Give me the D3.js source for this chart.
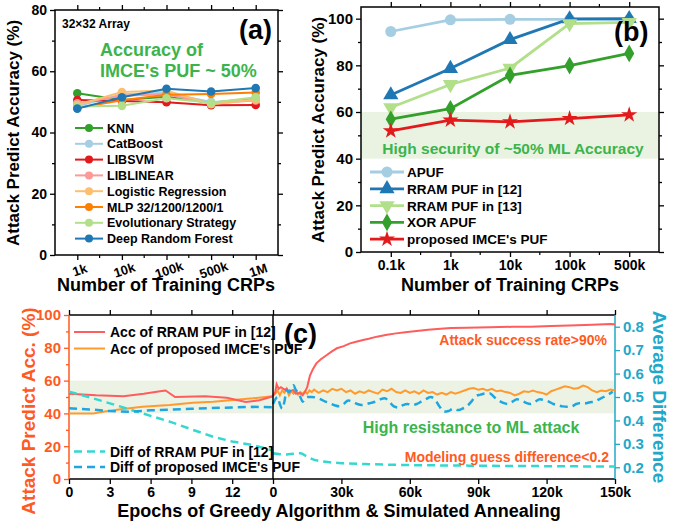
<!DOCTYPE html>
<html>
<head>
<meta charset="utf-8">
<script src="https://cdn.jsdelivr.net/npm/d3@7"></script>
<style>
body{margin:0;background:#fff;}
svg{font-family:"Liberation Sans",Arial,sans-serif;font-weight:bold;}
</style>
</head>
<body>
<svg id="chart" width="694" height="527"></svg>
<script>
// ---- panel (a) data
const crpsA = ["1k","10k","100k","500k","1M"];
const namesA = ["KNN","CatBoost","LIBSVM","LIBLINEAR","Logistic Regression","MLP 32/1200/1200/1","Evolutionary Strategy","Deep Random Forest"];
const knnAcc = [52.8,50.6,51.7,49.7,51.2];
const catboostAcc = [48.6,52.5,53.0,50.0,50.5];
const libsvmAcc = [50.6,50.3,49.9,48.9,49.0];
const liblinearAcc = [49.5,52.0,52.5,49.4,50.5];
const logregAcc = [49.0,53.2,53.7,49.2,50.8];
const mlpAcc = [48.0,50.5,52.3,52.6,53.1];
const evoAcc = [48.5,48.7,51.2,49.7,51.5];
const drfAcc = [47.8,51.5,54.3,53.4,54.5];

// ---- panel (b) data
const crpsB = ["0.1k","1k","10k","100k","500k"];
const namesB = ["APUF","RRAM PUF in [12]","RRAM PUF in [13]","XOR APUF","proposed IMCE's PUF"];
const apufAcc = [94.5,99.5,99.7,99.7,99.6];
const rram12Acc = [67.3,78.6,91.0,99.9,100];
const rram13Acc = [61.9,71.8,78.8,97.9,98.4];
const xorAcc = [56.9,61.4,75.7,79.9,85.1];
const imceAcc = [51.9,56.5,55.8,57.2,58.8];

// ---- panel (c) data: [epoch, value] for greedy, [k epochs, value] for annealing
const epochTicks = [0,3,6,9,12];
const annealTicks = [0,30,60,90,120,150];
const legendC = ["Acc of RRAM PUF in [12]","Acc of proposed IMCE's PUF","Diff of RRAM PUF in [12]","Diff of proposed IMCE's PUF"];
const rramAccGreedy = [[0,52],[2,51],[4,50.5],[5.5,52],[6.7,53.5],[7.1,54],[7.8,50],[10,50.5],[11.6,49.5],[13,47],[14,48],[15,50.5]];
const imceAccGreedy = [[0,40],[1.8,40],[2.5,41],[3.8,42.5],[5.4,44],[7.4,45.1],[9.1,46.5],[10.6,47.1],[12.1,48.2],[13.5,49.2],[14.6,50.2],[15,50.5]];
const rramDiffGreedy = [[0,0.523],[1.8,0.494],[3.8,0.459],[5.4,0.43],[7.4,0.395],[9.1,0.36],[10.6,0.33],[12,0.31],[13.5,0.295],[15,0.272]];
const imceDiffGreedy = [[0,0.452],[1.5,0.447],[3,0.44],[4.5,0.437],[6,0.443],[7.5,0.446],[9,0.45],[10.5,0.453],[12,0.455],[13.5,0.458],[15,0.456]];
const rramAccAnneal = [[0,51],[1,53],[1.6,57.7],[2.5,55],[3.5,56],[5,54.5],[6,55],[7,53],[8.8,54.3],[10,52],[11.8,52.5],[13,51],[14,53],[15,56],[16.2,63],[17.5,67],[19,70.5],[21,73],[23.6,75.6],[26,78],[28,79.7],[31,81],[33.8,82.7],[36,83.5],[39.5,84.7],[42,85.5],[45.6,86.8],[50,88],[54,88.8],[58,89.5],[63,90.2],[68,91],[72,91.5],[78,92],[85,92.3],[95,92.5],[105,92.8],[113,92.9],[122,93.3],[130,93.6],[140,94],[148,94.5],[150,94.4]];
const imceAccAnneal = [[0,50.5],[1,52],[2,54],[3,51],[4,54],[5,52.5],[6,55],[7,51],[8,53.5],[9,52],[10,54],[11,51.5],[12,53],[13,52],[14,53.5],[15,52],[16,54],[17,53],[18,54.5],[20,52.5],[22,54],[24,53],[26,55],[28,54],[30,55],[32,53],[34,54],[36,52],[38,53.5],[40,52.5],[42,54],[44,53],[46,52],[48,54.5],[50,53.5],[52,55],[54,53],[56,52.5],[58,54],[60,52.5],[62,53.5],[64,52],[66,54],[68,52.5],[70,53],[72,51.5],[74,52.5],[76,51.5],[78,53],[80,52],[82,53],[84,54],[86,55],[88,55.5],[90,54.5],[92,55],[94,54],[96,55],[98,53.5],[100,54],[102,53],[104,52.5],[106,51],[108,52],[110,53.5],[112,53],[114,54],[116,53],[118,52.5],[120,51.5],[122,53.5],[124,54.5],[126,55.5],[128,56.5],[130,56],[132,55],[134,55.5],[136,57],[138,56],[140,54],[142,53],[144,54],[146,53.5],[148,54.5],[150,54]];
const rramDiffAnneal = [[0,0.26],[3,0.256],[6,0.255],[9,0.258],[12,0.26],[15,0.245],[17.5,0.234],[21,0.226],[25,0.221],[32,0.217],[40,0.214],[57,0.21],[86,0.207],[116,0.205],[150,0.203]];
const imceDiffAnneal = [[0,0.47],[1,0.49],[2,0.5],[3,0.47],[4,0.45],[5,0.48],[6,0.53],[7,0.52],[8,0.54],[9,0.55],[10,0.53],[11,0.52],[12,0.5],[13,0.48],[14,0.49],[15,0.5],[17,0.5],[19,0.497],[21,0.49],[23,0.48],[25,0.473],[27,0.465],[29,0.46],[31,0.47],[33,0.485],[35,0.48],[37,0.47],[39,0.466],[41,0.47],[43,0.475],[45,0.48],[47,0.49],[49,0.495],[51,0.48],[53,0.46],[55,0.455],[57,0.465],[59,0.47],[61,0.465],[63,0.47],[65,0.48],[67,0.49],[69,0.5],[71,0.49],[73,0.46],[75,0.437],[77,0.44],[79,0.45],[81,0.444],[83,0.45],[85,0.46],[87,0.48],[89,0.505],[91,0.51],[93,0.515],[95,0.516],[97,0.5],[99,0.485],[101,0.475],[103,0.47],[105,0.48],[107,0.49],[109,0.485],[111,0.475],[113,0.47],[115,0.48],[117,0.49],[119,0.487],[121,0.48],[123,0.47],[125,0.465],[127,0.46],[129,0.458],[131,0.46],[133,0.47],[135,0.475],[137,0.473],[139,0.478],[141,0.48],[143,0.49],[145,0.5],[147,0.51],[149,0.523]];

const svg = d3.select("#chart");
svg.append("rect").attr("width",694).attr("height",527).attr("fill","#fff");

const green = "#3cb44b";

// styles an axis group: bold labels, given colour
function styleAxis(g, color, size) {
  g.select(".domain").remove();
  g.selectAll("line").attr("stroke", color).attr("stroke-width", 1.3);
  g.selectAll("text").attr("fill", color).attr("font-size", size)
    .attr("font-weight","bold").attr("font-family","Liberation Sans, Arial, sans-serif");
}

// ================= panel (a)
const xA = d3.scalePoint().domain(crpsA).range([55,278]).padding(0.5);
const yA = d3.scaleLinear().domain([0,80]).range([255,10]);
const gA = svg.append("g");

let ax = gA.append("g").attr("transform","translate(0,255)")
  .call(d3.axisBottom(xA).tickSize(5));
styleAxis(ax, "#000", 13);
ax.selectAll("text").attr("y",0).attr("dy","0.35em")
  .attr("transform","translate(2,15) rotate(-18)");
// minor ticks between categories
const minorA = crpsA.slice(0,-1).map((c,i) => (xA(c) + xA(crpsA[i+1]))/2);
gA.selectAll(".mxa").data(minorA).enter().append("line")
  .attr("x1",d=>d).attr("x2",d=>d).attr("y1",255).attr("y2",258).attr("stroke","#000").attr("stroke-width",1.2);
gA.selectAll(".mxat").data(minorA).enter().append("line")
  .attr("x1",d=>d).attr("x2",d=>d).attr("y1",10).attr("y2",7).attr("stroke","#000").attr("stroke-width",1.2);
ax = gA.append("g").attr("transform","translate(0,10)")
  .call(d3.axisTop(xA).tickSize(5).tickFormat(""));
styleAxis(ax, "#000", 13);

ax = gA.append("g").attr("transform","translate(55,0)")
  .call(d3.axisLeft(yA).tickValues([0,20,40,60,80]).tickSize(5));
styleAxis(ax, "#000", 14);
ax = gA.append("g").attr("transform","translate(55,0)")
  .call(d3.axisLeft(yA).tickValues([10,30,50,70]).tickSize(3).tickFormat(""));
styleAxis(ax, "#000", 14);
ax = gA.append("g").attr("transform","translate(278,0)")
  .call(d3.axisRight(yA).tickValues([0,20,40,60,80]).tickSize(5).tickFormat(""));
styleAxis(ax, "#000", 14);
ax = gA.append("g").attr("transform","translate(278,0)")
  .call(d3.axisRight(yA).tickValues([10,30,50,70]).tickSize(3).tickFormat(""));
styleAxis(ax, "#000", 14);
gA.append("rect").attr("x",55).attr("y",10).attr("width",223).attr("height",245)
  .attr("fill","none").attr("stroke","#000").attr("stroke-width",1.5);

const colorsA = ["#33a02c","#a6cee3","#e31a1c","#fb9a99","#fdbf6f","#ff7f00","#b2df8a","#1f78b4"];
const valuesA = [knnAcc,catboostAcc,libsvmAcc,liblinearAcc,logregAcc,mlpAcc,evoAcc,drfAcc];
const lineA = d3.line().x((d,i)=>xA(crpsA[i])).y(d=>yA(d));
valuesA.forEach((vals,k) => {
  gA.append("path").attr("d", lineA(vals)).attr("fill","none")
    .attr("stroke", colorsA[k]).attr("stroke-width",2);
  gA.selectAll(".pt"+k).data(vals).enter().append("circle")
    .attr("cx",(d,i)=>xA(crpsA[i])).attr("cy",d=>yA(d)).attr("r",4.3)
    .attr("fill",colorsA[k]);
});
// legend (a)
namesA.forEach((n,k) => {
  const y = 128 + k*15.8;
  gA.append("line").attr("x1",75).attr("x2",103).attr("y1",y).attr("y2",y)
    .attr("stroke",colorsA[k]).attr("stroke-width",2);
  gA.append("circle").attr("cx",89).attr("cy",y).attr("r",4).attr("fill",colorsA[k]);
  gA.append("text").attr("x",107).attr("y",y+4.5).attr("font-size",12.5).text(n);
});
gA.append("text").attr("x",62).attr("y",28).attr("font-size",12).text("32×32 Array");
gA.append("text").attr("x",239).attr("y",39).attr("font-size",27).text("(a)");
gA.append("text").attr("x",100).attr("y",56).attr("font-size",18).attr("fill",green).text("Accuracy of");
gA.append("text").attr("x",100).attr("y",77).attr("font-size",18).attr("fill",green).text("IMCE's PUF ~ 50%");
gA.append("text").attr("transform","translate(19,133) rotate(-90)").attr("text-anchor","middle")
  .attr("font-size",17).text("Attack Predict Accuracy (%)");
gA.append("text").attr("x",166).attr("y",291).attr("text-anchor","middle")
  .attr("font-size",18).text("Number of Training CRPs");

// ================= panel (b)
const xB = d3.scalePoint().domain(crpsB).range([361,659]).padding(0.5);
const yB = d3.scaleLinear().domain([0,105]).range([252,7]);
const gB = svg.append("g");
gB.append("rect").attr("x",361).attr("y",yB(60)).attr("width",298).attr("height",yB(40)-yB(60))
  .attr("fill","#eaf3e2");

ax = gB.append("g").attr("transform","translate(0,252)").call(d3.axisBottom(xB).tickSize(5));
styleAxis(ax, "#000", 14);
ax.selectAll("text").attr("dy","0.72em");
const minorB = crpsB.slice(0,-1).map((c,i) => (xB(c) + xB(crpsB[i+1]))/2);
gB.selectAll(".mxb").data(minorB).enter().append("line")
  .attr("x1",d=>d).attr("x2",d=>d).attr("y1",252).attr("y2",255).attr("stroke","#000").attr("stroke-width",1.2);
gB.selectAll(".mxbt").data(minorB).enter().append("line")
  .attr("x1",d=>d).attr("x2",d=>d).attr("y1",7).attr("y2",4).attr("stroke","#000").attr("stroke-width",1.2);
ax = gB.append("g").attr("transform","translate(0,7)").call(d3.axisTop(xB).tickSize(5).tickFormat(""));
styleAxis(ax, "#000", 14);
ax = gB.append("g").attr("transform","translate(361,0)")
  .call(d3.axisLeft(yB).tickValues([0,20,40,60,80,100]).tickSize(5));
styleAxis(ax, "#000", 15);
ax = gB.append("g").attr("transform","translate(361,0)")
  .call(d3.axisLeft(yB).tickValues([10,30,50,70,90]).tickSize(3).tickFormat(""));
styleAxis(ax, "#000", 15);
ax = gB.append("g").attr("transform","translate(659,0)")
  .call(d3.axisRight(yB).tickValues([0,20,40,60,80,100]).tickSize(5).tickFormat(""));
styleAxis(ax, "#000", 15);
ax = gB.append("g").attr("transform","translate(659,0)")
  .call(d3.axisRight(yB).tickValues([10,30,50,70,90]).tickSize(3).tickFormat(""));
styleAxis(ax, "#000", 15);
gB.append("rect").attr("x",361).attr("y",7).attr("width",298).attr("height",245)
  .attr("fill","none").attr("stroke","#000").attr("stroke-width",1.5);

const colorsB = ["#a6cee3","#1f78b4","#b2df8a","#33a02c","#e31a1c"];
const symbolsB = [d3.symbolCircle, d3.symbolTriangle, d3.symbolTriangle, d3.symbolDiamond, d3.symbolStar];
const rotB = [0,0,180,0,0];
const sizeB = [95,100,100,90,80];
const valuesB = [apufAcc,rram12Acc,rram13Acc,xorAcc,imceAcc];
const lineB = d3.line().x((d,i)=>xB(crpsB[i])).y(d=>yB(d));
valuesB.forEach((vals,k) => {
  gB.append("path").attr("d", lineB(vals)).attr("fill","none")
    .attr("stroke", colorsB[k]).attr("stroke-width",2.8);
  gB.selectAll(".pb"+k).data(vals).enter().append("path")
    .attr("d", d3.symbol().type(symbolsB[k]).size(sizeB[k]))
    .attr("transform",(d,i)=>"translate("+xB(crpsB[i])+","+yB(d)+") rotate("+rotB[k]+")")
    .attr("fill",colorsB[k]);
});
gB.append("text").attr("x",513).attr("y",154).attr("text-anchor","middle")
  .attr("font-size",15.5).attr("fill",green).text("High security of ~50% ML Accuracy");
namesB.forEach((n,k) => {
  const y = 172 + k*16.8;
  gB.append("line").attr("x1",370).attr("x2",404).attr("y1",y).attr("y2",y)
    .attr("stroke",colorsB[k]).attr("stroke-width",2.8);
  gB.append("path").attr("d", d3.symbol().type(symbolsB[k]).size(sizeB[k]))
    .attr("transform","translate(387,"+y+") rotate("+rotB[k]+")").attr("fill",colorsB[k]);
  gB.append("text").attr("x",407).attr("y",y+5).attr("font-size",13.5).text(n);
});
gB.append("text").attr("x",614).attr("y",41).attr("font-size",27).text("(b)");
gB.append("text").attr("transform","translate(324,130) rotate(-90)").attr("text-anchor","middle")
  .attr("font-size",17).text("Attack Predict Accuracy (%)");
gB.append("text").attr("x",510).attr("y",291).attr("text-anchor","middle")
  .attr("font-size",18).text("Number of Training CRPs");

// ================= panel (c)
const accColor = "#ff5a1f", diffColor = "#1fa8c9";
const xL = d3.scaleLinear().domain([0,15]).range([69,273]);
const xR = d3.scaleLinear().domain([0,150]).range([273,615]);
const yL = d3.scaleLinear().domain([0,100]).range([479,315]);
const yR = d3.scaleLinear().domain([0.15,0.85]).range([479,315]);
const gC = svg.append("g");
gC.append("rect").attr("x",69).attr("y",yL(60)).attr("width",546).attr("height",yL(40)-yL(60))
  .attr("fill","#ecf3e5");

ax = gC.append("g").attr("transform","translate(0,479)").call(d3.axisBottom(xL).tickValues(epochTicks).tickSize(5));
styleAxis(ax, "#000", 14);
ax.selectAll("text").attr("dy","0.68em");
ax = gC.append("g").attr("transform","translate(0,479)")
  .call(d3.axisBottom(xR).tickValues(annealTicks).tickSize(5).tickFormat(d => d===0 ? "0" : d+"k"));
styleAxis(ax, "#000", 14);
ax.selectAll("text").attr("dy","0.68em");
ax = gC.append("g").attr("transform","translate(0,315)").call(d3.axisTop(xL).tickValues(epochTicks).tickSize(5).tickFormat(""));
styleAxis(ax, "#000", 14);
ax = gC.append("g").attr("transform","translate(0,315)").call(d3.axisTop(xR).tickValues(annealTicks).tickSize(5).tickFormat(""));
styleAxis(ax, "#000", 14);
ax = gC.append("g").attr("transform","translate(69,0)")
  .call(d3.axisLeft(yL).tickValues([0,20,40,60,80,100]).tickSize(5));
styleAxis(ax, accColor, 15);
ax = gC.append("g").attr("transform","translate(69,0)")
  .call(d3.axisLeft(yL).tickValues([10,30,50,70,90]).tickSize(3).tickFormat(""));
styleAxis(ax, accColor, 15);
ax = gC.append("g").attr("transform","translate(615,0)")
  .call(d3.axisRight(yR).tickValues([0.2,0.3,0.4,0.5,0.6,0.7,0.8]).tickSize(5).tickFormat(d3.format(".1f")));
styleAxis(ax, diffColor, 15);
// frame
gC.append("line").attr("x1",69).attr("x2",615).attr("y1",315).attr("y2",315).attr("stroke","#000").attr("stroke-width",1.5);
gC.append("line").attr("x1",69).attr("x2",615).attr("y1",479).attr("y2",479).attr("stroke","#000").attr("stroke-width",1.5);
gC.append("line").attr("x1",69).attr("x2",69).attr("y1",315).attr("y2",479).attr("stroke",accColor).attr("stroke-width",1.5);
gC.append("line").attr("x1",615).attr("x2",615).attr("y1",315).attr("y2",479).attr("stroke",diffColor).attr("stroke-width",1.5);

const accLineL = d3.line().x(d=>xL(d[0])).y(d=>yL(d[1]));
const accLineR = d3.line().x(d=>xR(d[0])).y(d=>yL(d[1]));
const diffLineL = d3.line().x(d=>xL(d[0])).y(d=>yR(d[1]));
const diffLineR = d3.line().x(d=>xR(d[0])).y(d=>yR(d[1])).curve(d3.curveMonotoneX);
const colorsC = ["#ff5c5c","#ff9a2e","#33d9d0","#1ea6e0"];

gC.append("path").attr("d",accLineL(imceAccGreedy)).attr("fill","none").attr("stroke",colorsC[1]).attr("stroke-width",2);
gC.append("path").attr("d",accLineR(imceAccAnneal)).attr("fill","none").attr("stroke",colorsC[1]).attr("stroke-width",2);
gC.append("path").attr("d",accLineL(rramAccGreedy)).attr("fill","none").attr("stroke",colorsC[0]).attr("stroke-width",2);
gC.append("path").attr("d",accLineR(rramAccAnneal)).attr("fill","none").attr("stroke",colorsC[0]).attr("stroke-width",2);
gC.append("path").attr("d",diffLineL(rramDiffGreedy)).attr("fill","none").attr("stroke",colorsC[2]).attr("stroke-width",2.5).attr("stroke-dasharray","8,5");
gC.append("path").attr("d",diffLineR(rramDiffAnneal)).attr("fill","none").attr("stroke",colorsC[2]).attr("stroke-width",2.5).attr("stroke-dasharray","8,5");
gC.append("path").attr("d",diffLineL(imceDiffGreedy)).attr("fill","none").attr("stroke",colorsC[3]).attr("stroke-width",2.5).attr("stroke-dasharray","8,5");
gC.append("path").attr("d",diffLineR(imceDiffAnneal)).attr("fill","none").attr("stroke",colorsC[3]).attr("stroke-width",2.5).attr("stroke-dasharray","8,5");

// divider between greedy and annealing
gC.append("line").attr("x1",273).attr("x2",273).attr("y1",315).attr("y2",479).attr("stroke","#000").attr("stroke-width",1.5);

// legend (c)
const legY = [332,348.5,451.5,467];
legendC.forEach((n,k) => {
  gC.append("line").attr("x1",74).attr("x2",105).attr("y1",legY[k]).attr("y2",legY[k])
    .attr("stroke",colorsC[k]).attr("stroke-width",k<2?2:2.5).attr("stroke-dasharray",k<2?null:"8,5");
  gC.append("text").attr("x",110).attr("y",legY[k]+5).attr("font-size",14).text(n);
});
gC.append("text").attr("x",284).attr("y",343).attr("font-size",27).text("(c)");
gC.append("text").attr("x",607).attr("y",345).attr("text-anchor","end").attr("font-size",14)
  .attr("fill",accColor).text("Attack success rate>90%");
gC.append("text").attr("x",471).attr("y",433).attr("text-anchor","middle").attr("font-size",16)
  .attr("fill",green).text("High resistance to ML attack");
gC.append("text").attr("x",609).attr("y",462).attr("text-anchor","end").attr("font-size",14)
  .attr("fill",accColor).text("Modeling guess difference<0.2");
gC.append("text").attr("transform","translate(35,411) rotate(-90)").attr("text-anchor","middle")
  .attr("font-size",19).attr("fill",accColor).text("Attack Predict Acc. (%)");
gC.append("text").attr("transform","translate(653,397) rotate(90)").attr("text-anchor","middle")
  .attr("font-size",19).attr("fill",diffColor).text("Average Difference");
gC.append("text").attr("x",339).attr("y",517).attr("text-anchor","middle")
  .attr("font-size",18).text("Epochs of Greedy Algorithm & Simulated Annealing");
</script>
</body>
</html>
